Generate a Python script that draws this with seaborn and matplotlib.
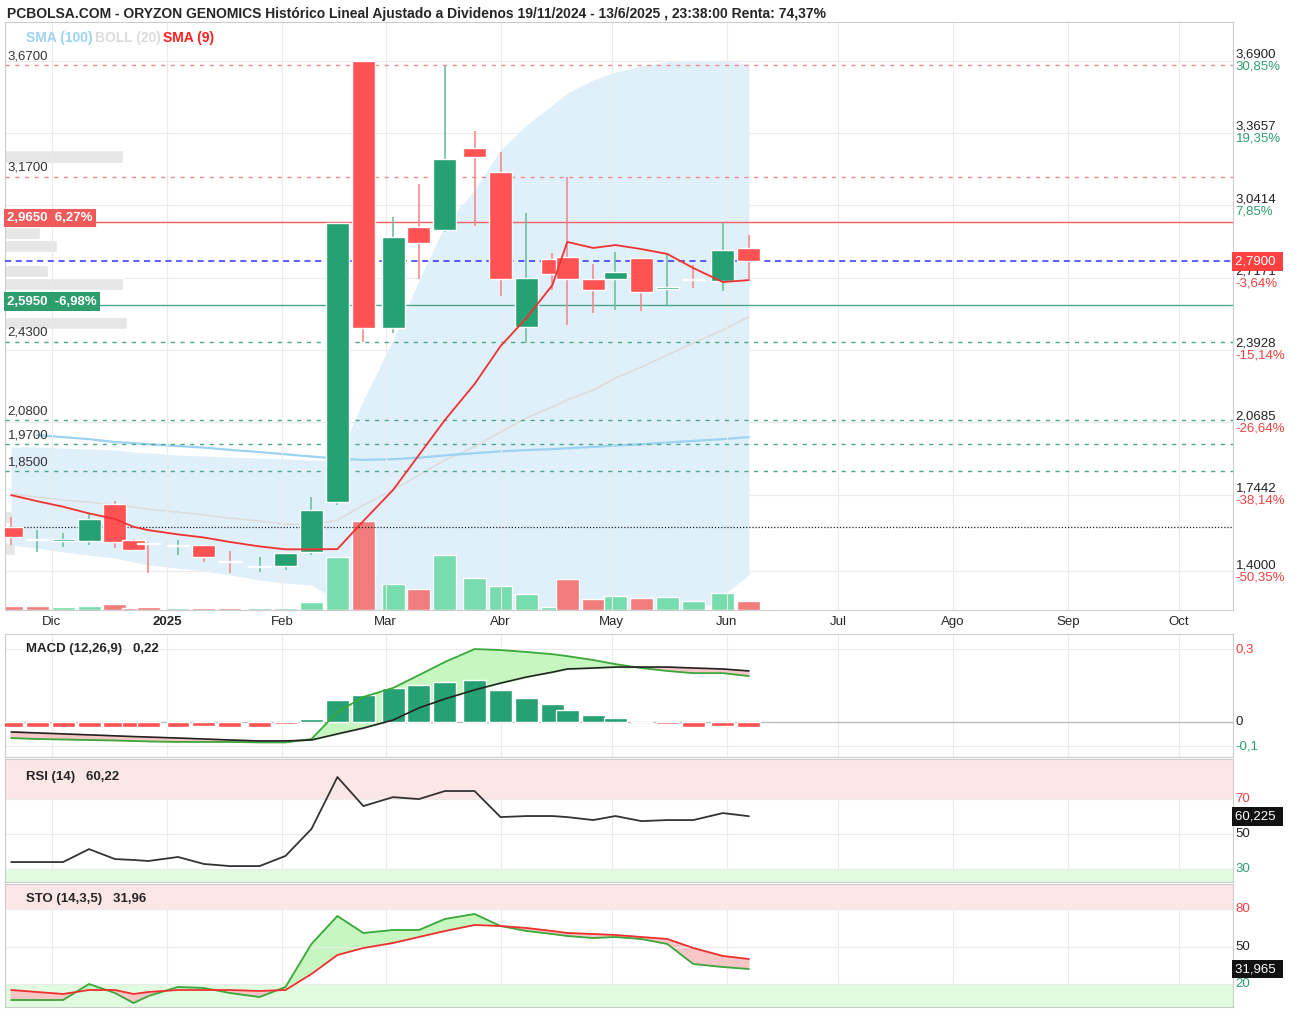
import numpy as np
import pandas as pd
import matplotlib
matplotlib.use("Agg")
import matplotlib.pyplot as plt
import matplotlib.dates as mdates
import matplotlib.transforms as mtrans
import seaborn as sns

sns.set_theme(style="white")
plt.rcParams['font.family'] = ['Liberation Sans', 'DejaVu Sans']

# ---------------- data ----------------
dates = ["2024-11-20","2024-11-27","2024-12-04","2024-12-11","2024-12-18","2024-12-23","2024-12-27",
         "2025-01-04","2025-01-11","2025-01-18","2025-01-26","2025-02-02","2025-02-09","2025-02-16",
         "2025-02-23","2025-03-03","2025-03-10","2025-03-17","2025-03-25","2025-04-01","2025-04-08",
         "2025-04-15","2025-04-19","2025-04-26","2025-05-02","2025-05-09","2025-05-16","2025-05-23",
         "2025-05-31","2025-06-07"]
open_ = [1.599,1.539,1.538,1.536,1.702,1.541,1.525,1.512,1.518,1.444,1.418,1.424,1.487,1.711,3.688,
         2.491,2.944,2.930,3.298,3.190,2.495,2.800,2.809,2.711,2.711,2.805,2.668,2.708,2.702,2.850]
high = [1.644,1.585,1.572,1.662,1.715,1.545,1.532,1.541,1.518,1.491,1.464,1.482,1.733,2.962,3.688,
        2.989,3.137,3.666,3.374,3.280,3.007,2.827,3.168,2.778,2.832,2.805,2.827,2.773,2.962,2.908]
low = [1.518,1.487,1.509,1.518,1.505,1.490,1.393,1.473,1.442,1.393,1.397,1.406,1.473,1.697,2.428,
       2.468,2.711,2.921,2.948,2.634,2.424,2.661,2.504,2.558,2.572,2.567,2.594,2.670,2.657,2.711]
close = [1.554,1.543,1.543,1.635,1.532,1.496,1.523,1.516,1.464,1.441,1.421,1.482,1.675,2.962,2.491,
         2.899,2.872,3.249,3.258,2.711,2.715,2.733,2.711,2.661,2.742,2.652,2.672,2.705,2.841,2.791]
volume = [4,4,3,4,6,2,3,2,2,2,2,2,8,53,89,26,21,55,32,24,16,3,31,11,14,12,13,9,17,9]
volume_up = [0,0,1,1,0,0,0,1,0,0,1,1,1,1,0,1,0,1,1,1,1,1,0,0,1,0,1,1,1,0]
sma9 = [1.742,1.715,1.690,1.660,1.635,1.600,1.585,1.566,1.552,1.532,1.512,1.499,1.499,1.500,1.626,
        1.765,1.922,2.079,2.240,2.410,2.536,2.684,2.877,2.850,2.863,2.845,2.823,2.760,2.697,2.706]
sma100 = [np.nan,2.011,2.002,1.993,1.980,1.975,1.970,1.962,1.955,1.945,1.935,1.925,1.915,1.906,1.900,
          1.903,1.910,1.920,1.930,1.938,1.944,1.948,1.952,1.958,1.964,1.970,1.978,1.985,1.993,2.002]
boll_up = [1.958,1.958,1.953,1.949,1.944,1.935,1.931,1.922,1.917,1.913,1.908,1.904,1.899,1.899,2.168,
           2.437,2.706,2.953,3.110,3.289,3.401,3.491,3.544,3.603,3.639,3.666,3.684,3.692,3.688,3.675]
boll_mid = [1.747,1.733,1.720,1.711,1.697,1.688,1.679,1.666,1.653,1.639,1.626,1.612,1.608,1.630,1.697,
            1.765,1.832,1.899,1.958,2.025,2.088,2.137,2.168,2.213,2.267,2.316,2.370,2.424,2.482,2.541]
boll_low = [1.518,1.505,1.487,1.473,1.460,1.442,1.429,1.415,1.402,1.384,1.361,1.348,1.339,1.272,1.092,
            0.913,0.823,0.734,0.734,0.823,0.868,0.913,0.958,1.003,1.047,1.092,1.137,1.204,1.294,1.384]
macd = [-0.066,-0.070,-0.072,-0.074,-0.076,-0.078,-0.080,-0.082,-0.082,-0.082,-0.084,-0.084,-0.070,0.041,
        0.103,0.140,0.193,0.247,0.300,0.296,0.288,0.279,0.271,0.255,0.238,0.222,0.210,0.201,0.201,0.189]
signal = [-0.041,-0.045,-0.049,-0.053,-0.057,-0.060,-0.062,-0.066,-0.070,-0.074,-0.078,-0.078,-0.074,-0.049,
          -0.025,0.008,0.058,0.095,0.132,0.160,0.185,0.205,0.218,0.222,0.226,0.226,0.226,0.222,0.218,0.210]
hist = [-0.02,-0.02,-0.02,-0.02,-0.02,-0.02,-0.02,-0.02,-0.015,-0.02,-0.02,-0.01,0.012,0.090,0.111,0.140,
        0.152,0.164,0.173,0.132,0.099,0.074,0.049,0.029,0.016,0.0,-0.008,-0.02,-0.015,-0.02]
rsi = [34.0,34.0,34.0,41.4,35.7,35.2,34.6,36.9,32.9,31.7,31.7,37.5,52.9,82.6,66.0,71.1,70.0,74.6,74.6,
       59.7,60.3,60.3,59.7,58.0,60.3,57.4,58.0,58.0,62.0,60.2]
sto_k = [7.2,7.2,7.2,20.0,12.8,4.8,10.4,17.6,16.8,12.8,9.6,17.6,52.0,74.4,60.8,63.2,63.2,72.0,76.0,66.4,
         62.4,60.0,58.4,56.8,57.6,56.0,52.0,36.0,33.6,32.0]
sto_d = [15.2,13.6,12.0,15.2,15.2,12.0,13.6,15.2,15.2,15.2,14.4,15.2,28.0,43.2,48.8,52.8,57.6,62.4,67.2,
         66.4,64.8,62.4,60.8,60.0,59.2,57.6,56.0,48.8,42.4,40.0]
month_ticks = ["2024-12-01","2025-01-01","2025-02-01","2025-03-01","2025-04-01","2025-05-01",
               "2025-06-01","2025-07-01","2025-08-01","2025-09-01","2025-10-01"]
month_labels = ["Dic","2025","Feb","Mar","Abr","May","Jun","Jul","Ago","Sep","Oct"]
right_ticks = [3.69,3.3657,3.0414,2.7171,2.3928,2.0685,1.7442,1.40]
right_pcts = ["30,85%","19,35%","7,85%","-3,64%","-15,14%","-26,64%","-38,14%","-50,35%"]
red_levels = [3.67,3.17]
green_levels = [2.43,2.08,1.97,1.85]
vp_prices = [3.260,2.917,2.859,2.746,2.688,2.513,1.644,1.50]
vp_width = [118,35,52,43,118,122,15,10]

# ---------------- setup ----------------
x = mdates.date2num(pd.to_datetime(dates))
mt = mdates.date2num(pd.to_datetime(month_ticks))
xmin = mdates.date2num(pd.Timestamp("2024-11-18 08:00"))
xmax = mdates.date2num(pd.Timestamp("2025-10-15 14:00"))
YLIM = (1.227, 3.863)
W, H = 1299, 1013
GREEN = "#26a173"; RED = "#ff5252"
fig = plt.figure(figsize=(W/100, H/100), dpi=100)
L = 5/W; AW = 1228/W
def pax(top, bot):
    return fig.add_axes([L, 1-bot/H, AW, (bot-top)/H])

# background layers for the main panel
axp = pax(22, 610)      # volume-profile bars
axb = pax(22, 610)      # bollinger band
axv = pax(22, 610)      # volume
ax = pax(22, 610)       # candles, lines, labels
axm = pax(634, 757)
axr = pax(759, 882)
axs = pax(884, 1007)

for a in (axp, axb, axv):
    a.set_xticks([]); a.set_yticks([])
    for s in a.spines.values():
        s.set_visible(False)
    a.set_xlim(xmin, xmax)
axp.set_xlim(0, 1228); axp.set_ylim(*YLIM)
axb.set_ylim(*YLIM); axv.set_ylim(0, 588)
axb.patch.set_visible(False); axv.patch.set_visible(False); ax.patch.set_visible(False)

for a in (ax, axm, axr, axs):
    a.set_xlim(xmin, xmax)
    for s in a.spines.values():
        s.set_color("#cccccc"); s.set_linewidth(0.8)
    a.set_xticks(mt)
    a.tick_params(axis='both', length=0, labelsize=9.5)
    a.grid(axis='x', color="#ebebeb", lw=0.8)
    a.set_yticks([])
for a in (axm, axr, axs):
    a.set_xticklabels([])
ax.set_xticklabels(month_labels)
for t in ax.get_xticklabels():
    if t.get_text() == "2025":
        t.set_fontweight("bold")
ax.tick_params(axis='x', pad=4)

# ---------------- main ----------------
ax.set_ylim(*YLIM)
for v in right_ticks:
    axp.axhline(v, color="#ebebeb", lw=0.8, zorder=0)
axp.barh(vp_prices, vp_width, height=0.055, left=0, color="#e6e6e6", zorder=1)
axb.fill_between(x, boll_low, boll_up, color="#dff0fb", lw=0, zorder=1)
sns.lineplot(x=x, y=boll_mid, ax=axb, color="#dcdcdc", lw=1.2, zorder=2)
sns.lineplot(x=x, y=sma100, ax=axb, color="#9cd2f3", lw=1.6, zorder=2)
axb.set_xlim(xmin, xmax); axb.set_ylim(*YLIM); axb.set_xticks([]); axb.set_yticks([])
axb.set_xlabel(""); axb.set_ylabel("")

vcols = ["#77dcae" if u else "#f07c7c" for u in volume_up]
axv.bar(x, volume, width=6.2, color=vcols, zorder=1)
axv.set_xlim(xmin, xmax)

# level lines
for v in red_levels:
    ax.axhline(v, color="#f08a8a", lw=1, ls=(0, (3, 4)), zorder=3)
for v in green_levels:
    ax.axhline(v, color="#4aa887", lw=1, ls=(0, (3, 4)), zorder=3)
ax.axhline(2.965, color="#f06060", lw=1, zorder=3)
ax.axhline(2.595, color="#4aa887", lw=1, zorder=3)
ax.axhline(2.79, color="#3030ff", lw=1.1, ls=(0, (4, 3)), zorder=3)
ax.axhline(1.599, color="#222222", lw=0.9, ls=(0, (1, 1.5)), zorder=3)

# candles
cols = [GREEN if c >= o else RED for o, c in zip(open_, close)]
wcols = ["#6cbf9f" if c >= o else "#f58a8a" for o, c in zip(open_, close)]
ax.vlines(x, low, high, colors=wcols, lw=1.2, zorder=4)
bottoms = [min(o, c) for o, c in zip(open_, close)]
heights = [max(abs(c-o), 0.006) for o, c in zip(open_, close)]
ax.bar(x, heights, bottom=bottoms, width=6.2, color=cols, zorder=5)
sns.lineplot(x=x, y=sma9, ax=ax, color="#f23030", lw=1.3, zorder=6)
ax.set_ylabel("")
ax.set_xlim(xmin, xmax)

bt = mtrans.blended_transform_factory(ax.transAxes, ax.transData)
for v, p in zip(right_ticks, right_pcts):
    ax.text(1.002, v, f"{v:.4f}".replace(".", ","), transform=bt, fontsize=9.5, va="bottom",
            ha="left", color="#222222", clip_on=False)
    ax.text(1.002, v, p, transform=bt, fontsize=9.5, va="top", ha="left",
            color="#2e9e6e" if not p.startswith("-") else "#f04040", clip_on=False)
ax.text(1.002, 2.79, "2,7900 ", transform=bt, fontsize=9.5, va="center", ha="left", color="white",
        bbox=dict(boxstyle="square,pad=0.25", fc="#ff4040", ec="none"), clip_on=False, zorder=10)
for v in red_levels + green_levels:
    ax.text(0.002, v + 0.012, f"{v:.4f}".replace(".", ","), transform=bt, fontsize=9.5,
            va="bottom", ha="left", color="#333333", zorder=7)
ax.text(0.002, 2.985, "2,9650  6,27%", transform=bt, fontsize=9.5, va="center", ha="left",
        color="white", fontweight="bold",
        bbox=dict(boxstyle="square,pad=0.25", fc="#f05a5a", ec="none"), zorder=8)
ax.text(0.002, 2.61, "2,5950  -6,98%", transform=bt, fontsize=9.5, va="center", ha="left",
        color="white", fontweight="bold",
        bbox=dict(boxstyle="square,pad=0.25", fc="#2e9e6e", ec="none"), zorder=8)
ax.text(0.017, 0.985, "SMA (100)", transform=ax.transAxes, color="#9cd2f3", fontsize=10,
        fontweight="bold", va="top")
ax.text(0.073, 0.985, "BOLL (20)", transform=ax.transAxes, color="#dcdcdc", fontsize=10,
        fontweight="bold", va="top")
ax.text(0.129, 0.985, "SMA (9)", transform=ax.transAxes, color="#ff2020", fontsize=10,
        fontweight="bold", va="top")
fig.text(7/W, 1-14/H, "PCBOLSA.COM - ORYZON GENOMICS Histórico Lineal Ajustado a Dividenos "
         "19/11/2024 - 13/6/2025 , 23:38:00 Renta: 74,37%", fontsize=10, fontweight="bold",
         va="center", ha="left")

# ---------------- MACD ----------------
axm.set_ylim(-0.144, 0.362)
axm.axhline(0, color="#bbbbbb", lw=1)
for v in (0.3, -0.1):
    axm.axhline(v, color="#ebebeb", lw=0.8)
hc = [GREEN if h >= 0 else RED for h in hist]
axm.bar(x, hist, width=6.2, color=hc, zorder=3)
m = np.array(macd); s_ = np.array(signal)
axm.fill_between(x, m, s_, where=m >= s_, interpolate=True, color="#c6f7c0", zorder=2)
axm.fill_between(x, m, s_, where=m < s_, interpolate=True, color="#f7c6c6", zorder=2)
sns.lineplot(x=x, y=macd, ax=axm, color="#3aa83a", lw=1.3, zorder=4)
sns.lineplot(x=x, y=signal, ax=axm, color="#222222", lw=1.2, zorder=4)
btm = mtrans.blended_transform_factory(axm.transAxes, axm.transData)
for v, t, c in ((0.3, "0,3", "#f04040"), (0, "0", "#222222"), (-0.1, "-0,1", "#2e9e6e")):
    axm.text(1.002, v, t, transform=btm, fontsize=9.5, va="center", color=c)
axm.text(0.017, 0.93, "MACD (12,26,9)   0,22", transform=axm.transAxes, fontsize=9.5,
         fontweight="bold", va="top")

# ---------------- RSI ----------------
axr.set_ylim(22.6, 92.9)
axr.axhspan(70, 92.9, color="#fde6e6", lw=0)
axr.axhspan(22.6, 30, color="#e0fbe0", lw=0)
for v in (70, 50, 30):
    axr.axhline(v, color="#ebebeb", lw=0.8)
sns.lineplot(x=x, y=rsi, ax=axr, color="#333333", lw=1.3)
btr = mtrans.blended_transform_factory(axr.transAxes, axr.transData)
for v, c in ((70, "#f04040"), (50, "#222222"), (30, "#2e9e6e")):
    axr.text(1.002, v, str(v), transform=btr, fontsize=9.5, va="center", color=c)
axr.text(1.002, 60.2, "60,225 ", transform=btr, fontsize=9.5, va="center", color="white",
         bbox=dict(boxstyle="square,pad=0.25", fc="#111111", ec="none"))
axr.text(0.017, 0.9, "RSI (14)   60,22", transform=axr.transAxes, fontsize=9.5,
         fontweight="bold", va="top")

# ---------------- STO ----------------
axs.set_ylim(1.6, 100)
axs.axhspan(80, 100, color="#fde6e6", lw=0)
axs.axhspan(1.6, 20, color="#e0fbe0", lw=0)
for v in (80, 50, 20):
    axs.axhline(v, color="#ebebeb", lw=0.8)
k = np.array(sto_k); d = np.array(sto_d)
axs.fill_between(x, k, d, where=k >= d, interpolate=True, color="#c6f7c0")
axs.fill_between(x, k, d, where=k < d, interpolate=True, color="#f7c6c6")
sns.lineplot(x=x, y=sto_k, ax=axs, color="#3aa83a", lw=1.3)
sns.lineplot(x=x, y=sto_d, ax=axs, color="#f03030", lw=1.3)
bts = mtrans.blended_transform_factory(axs.transAxes, axs.transData)
for v, c in ((80, "#f04040"), (50, "#222222"), (20, "#2e9e6e")):
    axs.text(1.002, v, str(v), transform=bts, fontsize=9.5, va="center", color=c)
axs.text(1.002, 32.0, "31,965 ", transform=bts, fontsize=9.5, va="center", color="white",
         bbox=dict(boxstyle="square,pad=0.25", fc="#111111", ec="none"))
axs.text(0.017, 0.93, "STO (14,3,5)   31,96", transform=axs.transAxes, fontsize=9.5,
         fontweight="bold", va="top")

for a in (ax, axm, axr, axs, axb, axv):
    a.set_xlim(xmin, xmax)
fig.savefig("out.png", dpi=100, facecolor="white")
